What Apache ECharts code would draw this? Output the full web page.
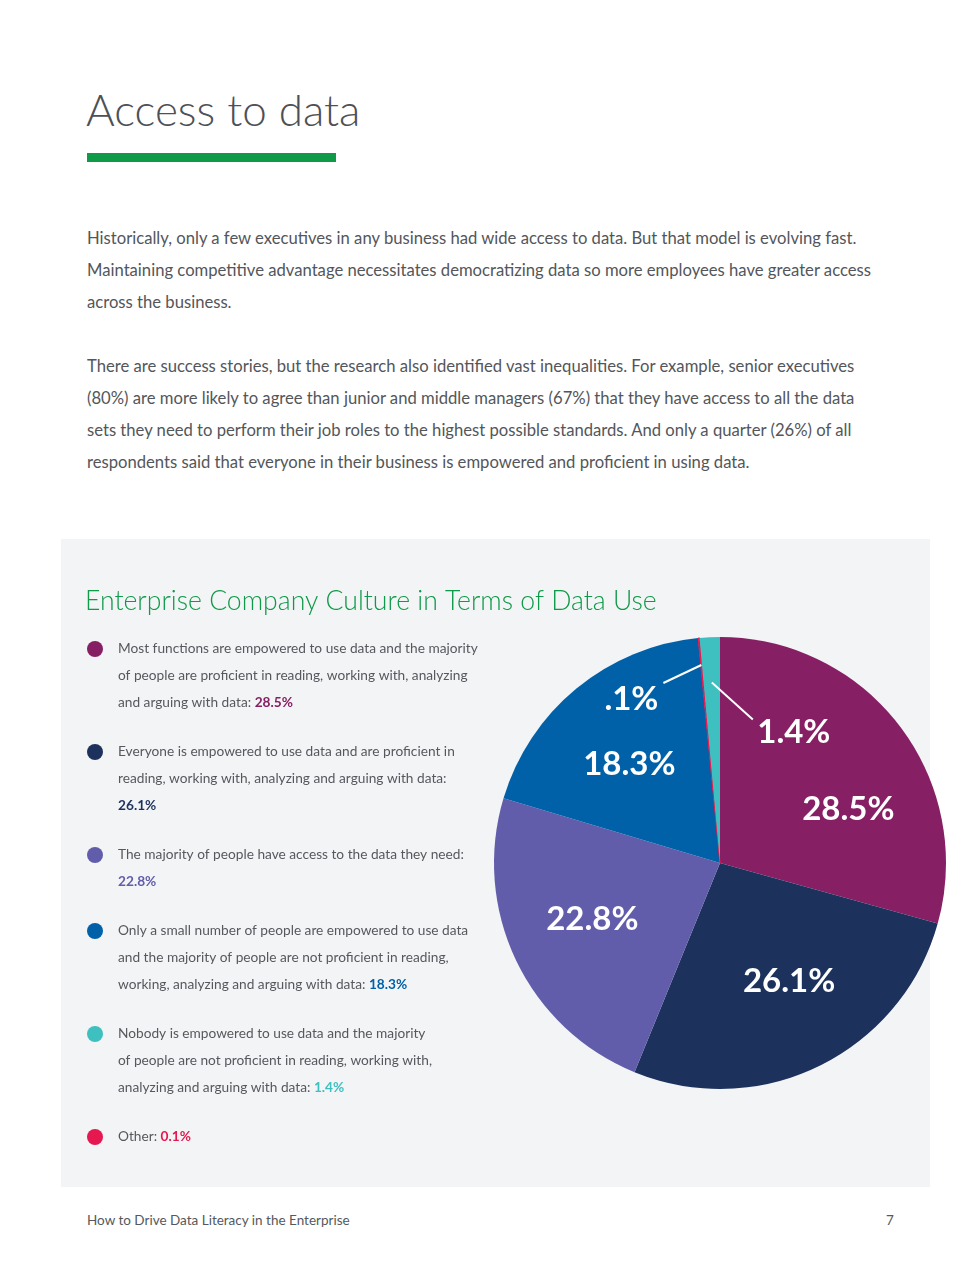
<!DOCTYPE html>
<html>
<head>
<meta charset="utf-8">
<script src="https://cdn.jsdelivr.net/npm/echarts@6/dist/echarts.min.js"></script>
<style>
    body { margin: 0; background: #fff; font-family: Lato, 'Noto Sans', sans-serif; color: #53565a; }
    .page { position: relative; width: 980px; height: 1268px; overflow: hidden; }
    .h1 { position: absolute; left: 86px; top: 83px; font-size: 44px; font-weight: 300; color: #4d5056; white-space: nowrap; }
    .bar { position: absolute; left: 87px; top: 153px; width: 249px; height: 9px; background: #0e9a48; }
    .para { position: absolute; left: 87px; font-size: 16.65px; line-height: 32px; white-space: nowrap; color: #53565a; }
    .panel { position: absolute; left: 61px; top: 539px; width: 869px; height: 648px; background: #f3f4f6; }
    #chart { position: absolute; left: 61px; top: 539px; width: 919px; height: 648px; }
    .foot { position: absolute; top: 1212px; font-size: 13.5px; color: #55585c; }
</style>
</head>
<body>
<div class="page">
    <div class="h1">Access to data</div>
    <div class="bar"></div>
    <div class="para" style="top:222px">
        Historically, only a few executives in any business had wide access to data. But that model is evolving fast.<br>
        Maintaining competitive advantage necessitates democratizing data so more employees have greater access<br>
        across the business.
    </div>
    <div class="para" style="top:350px">
        There are success stories, but the research also identified vast inequalities. For example, senior executives<br>
        (80%) are more likely to agree than junior and middle managers (67%) that they have access to all the data<br>
        sets they need to perform their job roles to the highest possible standards. And only a quarter (26%) of all<br>
        respondents said that everyone in their business is empowered and proficient in using data.
    </div>
    <div class="panel"></div>
    <div id="chart"></div>
    <div class="foot" style="left:87px">How to Drive Data Literacy in the Enterprise</div>
    <div class="foot" style="left:886px">7</div>
</div>
<script>
// legend order
var categories = [
    'Most functions are empowered to use data and the majority\nof people are proficient in reading, working with, analyzing\nand arguing with data: ',
    'Everyone is empowered to use data and are proficient in\nreading, working with, analyzing and arguing with data:\n',
    'The majority of people have access to the data they need:\n',
    'Only a small number of people are empowered to use data\nand the majority of people are not proficient in reading,\nworking, analyzing and arguing with data: ',
    'Nobody is empowered to use data and the majority\nof people are not proficient in reading, working with,\nanalyzing and arguing with data: ',
    'Other: '
];
var shares = [28.5, 26.1, 22.8, 18.3, 1.4, 0.1];
var colors = ['#861f63', '#1c325d', '#625daa', '#0061a8', '#3ebfc0', '#e5184f'];
// clockwise order of the slices from 12 o'clock
var pieOrder = [0, 1, 2, 3, 5, 4];

// the thin slice is labelled ".1%" on the pie itself
function pieText(v) {
    return String(v).replace(/^0/, '') + '%';
}

var cx = 659, cy = 324, R = 226;

// label nudges (dx, dy) for the big slices, leader line offsets for the thin ones
var nudge = {0: [36, 17], 1: [18, 14], 2: [-23, 6], 3: [-17, -9]};
var leader = {
    5: {k: 0.88, end: [-38, 18], label: [-70, 34]},
    4: {k: 0.80, end: [41, 37], label: [82, 50]}
};

// mid angle of a slice, the same way the pie lays it out (clockwise from 12 o'clock)
var total = shares.reduce(function (s, v) { return s + v; }, 0);
function midPoint(i, k) {
    var before = 0;
    for (var j = 0; j < pieOrder.length && pieOrder[j] !== i; j++) {
        before += shares[pieOrder[j]];
    }
    var a = (before + shares[i] / 2) / total * 2 * Math.PI;
    return [cx + k * R * Math.sin(a), cy - k * R * Math.cos(a)];
}

var pieData = pieOrder.map(function (i) {
    var st = {color: colors[i]};
    // keep the hairline slice visible
    if (i === 5) { st.borderColor = colors[i]; st.borderWidth = 1; }
    return {value: shares[i], name: 'c' + i, itemStyle: st};
});

var graphics = [];
var y = 110;
categories.forEach(function (txt, i) {
    var lines = txt.split('\n').length;
    var rich = {};
    rich['v' + i] = {fontFamily: 'Lato', fontSize: 13.7, fontWeight: 'bold', lineHeight: 27, fill: colors[i]};
    graphics.push({
        type: 'circle', shape: {cx: 34, cy: y, r: 8}, style: {fill: colors[i]}
    });
    graphics.push({
        type: 'text',
        style: {
            x: 57, y: y - 13.5,
            text: txt + '{v' + i + '|' + shares[i] + '%}',
            fontFamily: 'Lato', fontSize: 13.7, lineHeight: 27,
            fill: '#55585d', verticalAlign: 'top',
            rich: rich
        }
    });
    y += lines * 27 + 22;
});

// white leader lines for the two thin slices
Object.keys(leader).forEach(function (key) {
    var i = +key, L = leader[i];
    var s = midPoint(i, L.k);
    graphics.push({
        type: 'line', z: 100,
        shape: {x1: s[0], y1: s[1], x2: s[0] + L.end[0], y2: s[1] + L.end[1]},
        style: {stroke: '#fff', lineWidth: 2}
    });
});

var chart = echarts.init(document.getElementById('chart'));
chart.setOption({
    animation: false,
    title: {
        text: 'Enterprise Company Culture in Terms of Data Use',
        left: 19, top: 44,
        textStyle: {fontFamily: 'Lato', fontWeight: 300, fontSize: 26.6, color: '#0e9a48'}
    },
    graphic: graphics,
    series: [{
        type: 'pie',
        center: [cx, cy],
        radius: [0, R],
        startAngle: 90,
        clockwise: true,
        silent: true,
        avoidLabelOverlap: false,
        itemStyle: {borderWidth: 0},
        label: {
            show: true,
            position: 'inside',
            formatter: function (p) { return pieText(p.value); },
            color: '#fff',
            fontFamily: 'Lato',
            fontWeight: 'bold',
            fontSize: 33
        },
        labelLine: {show: false},
        labelLayout: function (p) {
            var i = pieOrder[p.dataIndex];
            if (nudge[i]) {
                return {dx: nudge[i][0], dy: nudge[i][1]};
            }
            if (leader[i]) {
                var L = leader[i];
                var s = midPoint(i, L.k);
                return {
                    x: s[0] + L.label[0], y: s[1] + L.label[1],
                    align: 'center', verticalAlign: 'middle'
                };
            }
            return {};
        },
        data: pieData
    }]
});
</script>
</body>
</html>
